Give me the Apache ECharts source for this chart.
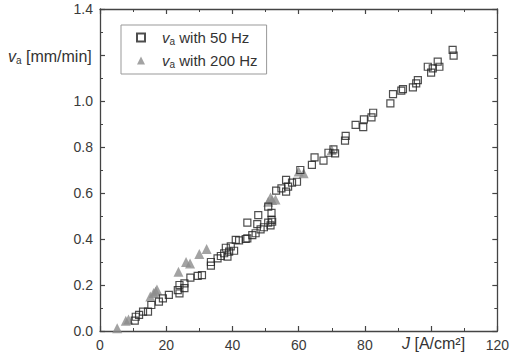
<!DOCTYPE html>
<html><head><meta charset="utf-8">
<script src="https://cdn.jsdelivr.net/npm/echarts@6/dist/echarts.min.js"></script>
<style>html,body{margin:0;padding:0;background:#fff}#c{width:512px;height:355px}</style>
</head><body><div id="c"></div>
<script>
// 50 Hz series: [J, v_a]
const hz50J = [10.5,10.8,11.8,13,14.5,15.5,17.8,19,20.8,23.5,24,24,25.5,25.5,27.3,29.5,30.8,33.5,33.5,35.5,36.5,37.5,38,38.5,39,39.5,40.5,41,42,44,44.5,44.5,46,47,47.5,47.8,48.5,49.5,50.8,50.8,51.5,51.8,51.8,52,53.2,54.8,56.2,56.2,56.8,58,59.5,60.5,64,64.8,67.5,69,70.5,71,74,74.2,77.2,79.5,79.7,82,82.5,87.7,88.5,91,91.5,94.5,95.5,96,99,100,100.5,102,102.5,106.5,106.8];
const hz50V = [0.045,0.062,0.07,0.084,0.084,0.113,0.128,0.142,0.157,0.178,0.164,0.2,0.186,0.207,0.232,0.24,0.243,0.284,0.30,0.316,0.326,0.338,0.362,0.323,0.345,0.368,0.349,0.396,0.394,0.40,0.471,0.403,0.417,0.425,0.465,0.504,0.442,0.451,0.471,0.541,0.459,0.514,0.483,0.475,0.61,0.62,0.657,0.606,0.628,0.645,0.649,0.70,0.722,0.755,0.741,0.775,0.79,0.772,0.828,0.848,0.896,0.886,0.92,0.929,0.949,0.99,1.03,1.045,1.052,1.059,1.077,1.091,1.149,1.123,1.142,1.171,1.149,1.222,1.197];
// 200 Hz series
const hz200J = [5.2,7.8,8.6,15.2,16.2,17.2,16.8,23.7,26,27.2,30,32.2,50.8,52,53,51.5,60,61.5,70];
const hz200V = [0.012,0.045,0.05,0.15,0.165,0.18,0.172,0.258,0.30,0.294,0.335,0.356,0.562,0.57,0.572,0.58,0.693,0.686,0.787];
const xTickLabels = ['0','20','40','60','80','','120'];   // 100 is replaced by the axis title
const yTickLabels = ['0.0','0.2','0.4','0.6','0.8','1.0','','1.4']; // 1.2 is replaced by the axis title

const zip = (a,b) => a.map((x,i)=>[x,b[i]]);
const axisColor = '#444';
const FF = 'Liberation Sans, Arial, sans-serif';
const lab = {color:'#3a3a3a', fontSize:14, fontFamily:FF};
const chart = echarts.init(document.getElementById('c'), null, {renderer:'svg'});
const baseX = {type:'value', min:0, max:120, interval:20,
  axisLine:{show:true, onZero:false, lineStyle:{color:axisColor, width:1.3}},
  axisTick:{show:true, inside:true, length:5, lineStyle:{color:axisColor, width:1.2}},
  minorTick:{show:true, splitNumber:2, length:3, lineStyle:{color:axisColor}},
  splitLine:{show:false}};
const baseY = {type:'value', min:0, max:1.4, interval:0.2,
  axisLine:{show:true, onZero:false, lineStyle:{color:axisColor, width:1.3}},
  axisTick:{show:true, inside:true, length:5, lineStyle:{color:axisColor, width:1.2}},
  minorTick:{show:true, splitNumber:2, length:3, lineStyle:{color:axisColor}},
  splitLine:{show:false}};
chart.setOption({
  animation:false,
  grid:{left:100, right:12, top:9, bottom:24},
  xAxis:[
    Object.assign({}, baseX, {position:'bottom', axisLabel:Object.assign({}, lab, {margin:7,
      formatter: (v) => xTickLabels[Math.round(v/20)]})}),
    Object.assign({}, baseX, {position:'top', axisLabel:{show:false}})
  ],
  yAxis:[
    Object.assign({}, baseY, {position:'left', axisLabel:Object.assign({}, lab, {margin:7,
      formatter: (v) => yTickLabels[Math.round(v/0.2)]})}),
    Object.assign({}, baseY, {position:'right', axisLabel:{show:false}})
  ],
  legend:{orient:'vertical', left:121, top:25, width:138, padding:[5,9,5,15],
    borderColor:'#999', borderWidth:1, itemGap:7, itemWidth:8, itemHeight:8,
    data:['s50','s200'],
    formatter: n => n==='s50' ? '{v|v}{a|a}{t| with 50 Hz}' : '{v|v}{a|a}{t| with 200 Hz}',
    textStyle:{padding:[0,0,0,12], rich:{
      v:{fontStyle:'italic', fontSize:15, color:'#333', fontFamily:FF},
      a:{fontSize:10, color:'#333', padding:[7,0,0,0], fontFamily:FF},
      t:{fontSize:15, color:'#333', fontFamily:FF}}}},
  graphic:[
    {type:'text', left:8, top:48, style:{rich:{
        v:{fontStyle:'italic', fontSize:16, fill:'#333', fontFamily:FF},
        a:{fontSize:10, fill:'#333', padding:[8,0,0,0], fontFamily:FF},
        t:{fontSize:16, fill:'#333', fontFamily:FF}},
      text:'{v|v}{a|a}{t| [mm/min]}'}},
    {type:'text', left:402, top:335, style:{rich:{
        j:{fontStyle:'italic', fontSize:16, fill:'#333', fontFamily:FF},
        t:{fontSize:16, fill:'#333', fontFamily:FF}},
      text:'{j|J}{t| [A/cm²]}'}}
  ],
  series:[
    {name:'s50', type:'scatter', symbol:'rect', symbolSize:7, xAxisIndex:0, yAxisIndex:0,
      itemStyle:{color:'rgba(255,255,255,0)', borderColor:'#222', borderWidth:1.2},
      data: zip(hz50J, hz50V), z:3},
    {name:'s200', type:'scatter', symbol:'triangle', symbolSize:10, xAxisIndex:0, yAxisIndex:0,
      itemStyle:{color:'#8c8c8c'}, data: zip(hz200J, hz200V), z:2}
  ]
});
</script></body></html>
